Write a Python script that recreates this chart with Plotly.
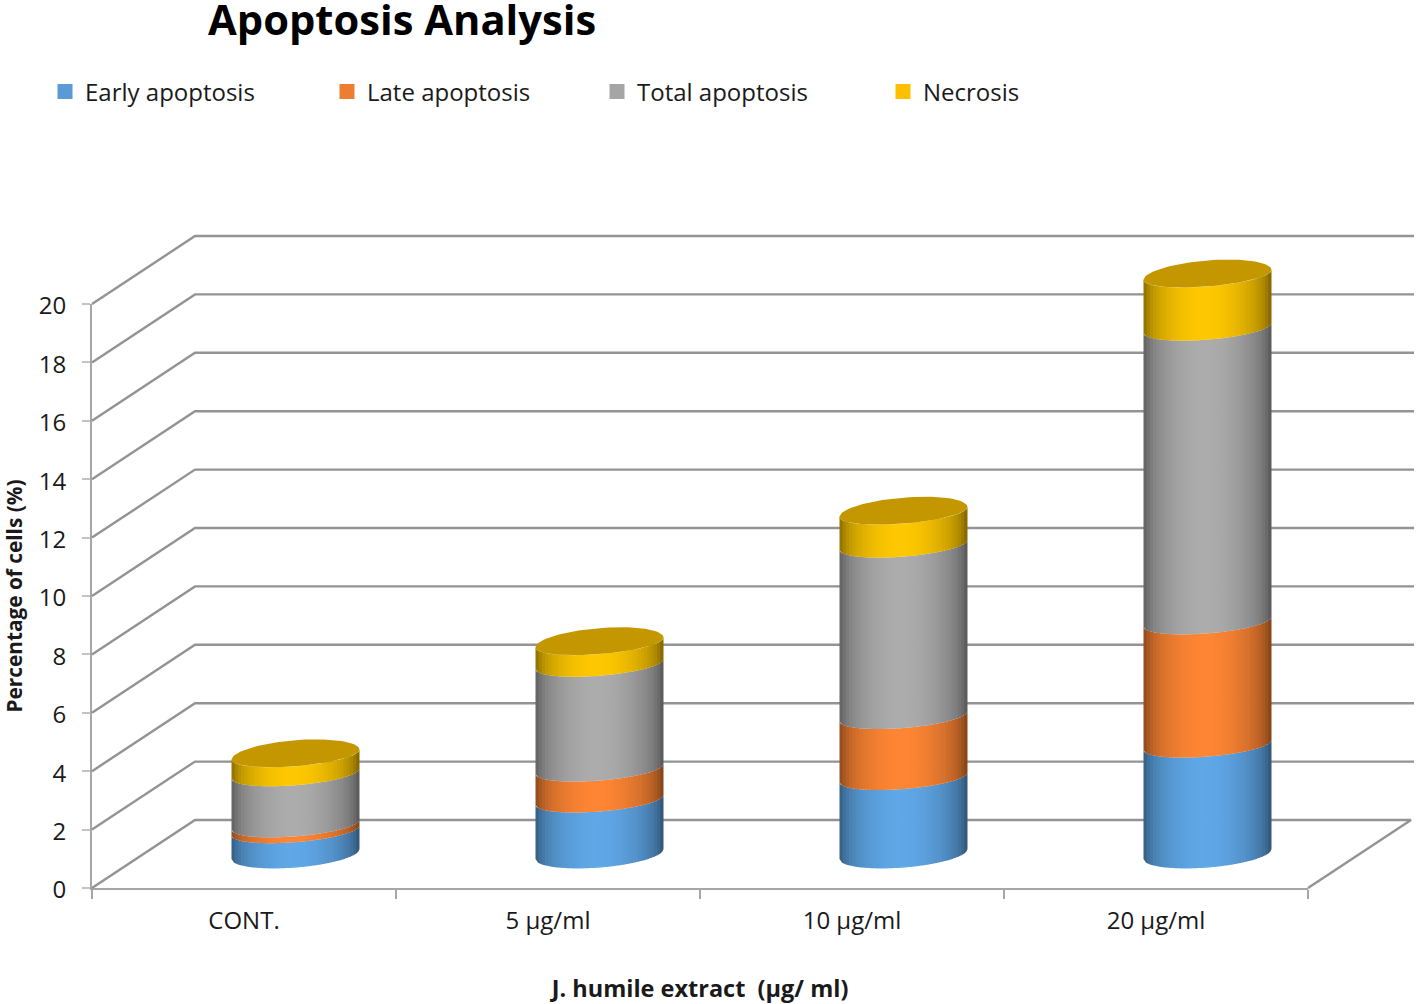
import numpy as np
import plotly.graph_objects as go

categories = ["CONT.", "5 µg/ml", "10 µg/ml", "20 µg/ml"]
early = [0.80, 1.85, 2.62, 3.73]
late = [0.20, 1.06, 2.09, 4.22]
total = [1.75, 3.59, 5.87, 10.06]
necrosis = [0.65, 0.74, 1.13, 1.82]
series_names = ["Early apoptosis", "Late apoptosis", "Total apoptosis", "Necrosis"]
series_colors = ["#5b9bd5", "#ed7d31", "#a5a5a5", "#ffc000"]
body_colors = [(96, 168, 232), (255, 134, 52), (173, 173, 173), (255, 201, 0)]
top_color = "#c49700"
y_ticks = list(range(0, 21, 2))

W, H = 1416, 1004
L, R, T, B = 92, 108, 304, 116
PX = (W - L - R) / 4
PY = (H - T - B) / 20
DX, DY = 103 / PX, 68 / PY      # depth of the 3-D box in axis units
RX = 64 / PX                    # cylinder radius
TILT = 5 / PY                   # elliptical outline
RY_FRONT, RY_BACK, RY_BASE = 11.5 / PY, 14.5 / PY, 13.5 / PY
GRID = "#939393"
AX = "#a6a6a6"
XA, YA = "x2", "y2"             # full-page axes with the same scale as the front plane

fig = go.Figure()

# keeps the front-plane axes (ticks, labels, titles) alive
fig.add_trace(go.Scatter(x=[0, 4], y=[0, 20], mode="markers", marker=dict(opacity=0, size=1),
                         showlegend=False, hoverinfo="skip"))

# walls
gx, gy = [], []
for v in y_ticks:
    if v == 0:
        gx += [0, DX, 4 + DX, 4, None]
        gy += [0, DY, DY, 0, None]
    else:
        gx += [0, DX, 4 + DX + 0.01, None]
        gy += [v, v + DY, v + DY, None]
fig.add_trace(go.Scatter(x=gx, y=gy, mode="lines", xaxis=XA, yaxis=YA, showlegend=False,
                         hoverinfo="skip", line=dict(color=GRID, width=2.4)))


def front(u, ry):
    return TILT * u - ry * np.sqrt(np.clip(1 - u * u, 0, 1))


def shade(c, u):
    f = 1 - 0.30 * abs(u) ** 2 - 0.16 * abs(u) ** 10 - (0.06 * max(u, 0))
    return "rgb(%d,%d,%d)" % tuple(int(v * f) for v in c)


N = 40
edges = np.linspace(-1, 1, N + 1)
series = [early, late, total, necrosis]
for i in range(len(categories)):
    cx = i + 0.5 + DX / 2
    cy = DY / 2
    base = 0.0
    for s, vals in enumerate(series):
        top = base + vals[i]
        for j in range(N):
            u = np.linspace(edges[j], min(edges[j + 1] + 0.012, 1), 4)
            xs = cx + RX * u
            lo = cy + base + front(u, RY_BASE if s == 0 else RY_FRONT)
            hi = cy + top + front(u, RY_FRONT)
            fig.add_trace(go.Scatter(
                x=np.r_[xs, xs[::-1], xs[0]], y=np.r_[lo, hi[::-1], lo[0]],
                mode="lines", fill="toself", xaxis=XA, yaxis=YA, showlegend=False,
                hoverinfo="skip", line=dict(width=0),
                fillcolor=shade(body_colors[s], (edges[j] + edges[j + 1]) / 2)))
        base = top
    t = np.linspace(0, 2 * np.pi, 90)
    sn = np.sin(t)
    fig.add_trace(go.Scatter(
        x=cx + RX * np.cos(t),
        y=cy + base + TILT * np.cos(t) + np.where(sn > 0, RY_BACK, RY_FRONT) * sn,
        mode="lines", fill="toself", xaxis=XA, yaxis=YA, showlegend=False,
        hoverinfo="skip", line=dict(width=0), fillcolor=top_color))

# legend: one legend box per series so that each entry sits at its own place
legend_x = [45, 327, 597, 883]
legends = {}
for k, (nm, col) in enumerate(zip(series_names, series_colors)):
    key = "legend" if k == 0 else f"legend{k + 1}"
    fig.add_trace(go.Scatter(x=[None], y=[None], mode="markers", name=nm, legend=key,
                             xaxis=XA, yaxis=YA,
                             marker=dict(symbol="square", size=15, color=col)))
    legends[key] = dict(x=legend_x[k] / W, y=1 - 92 / H,
                        xanchor="left", yanchor="middle", bgcolor="rgba(0,0,0,0)",
                        font=dict(family="Open Sans", size=24, color="#1a1a1a"))

fig.update_layout(
    width=W, height=H, autosize=False,
    margin=dict(l=0, r=0, t=0, b=0, pad=0),
    paper_bgcolor="white", plot_bgcolor="rgba(0,0,0,0)",
    title=dict(text="<b>Apoptosis Analysis</b>", xref="paper", yref="paper",
               x=208 / W, xanchor="left", y=1 - 20 / H, yanchor="middle",
               font=dict(family="Open Sans", size=41.7, color="black")),
    xaxis=dict(domain=[L / W, 1 - R / W], range=[0, 4], anchor="y", automargin=False,
               tickvals=[0.5, 1.5, 2.5, 3.5], ticktext=categories,
               ticks="", showgrid=False, zeroline=False, showline=True, linecolor=AX, linewidth=2,
               ticklabelstandoff=10, tickfont=dict(family="Open Sans", size=24, color="#1a1a1a"),
               minor=dict(tickvals=[0, 1, 2, 3, 4], ticks="outside", ticklen=9, tickcolor=AX,
                          tickwidth=2, showgrid=False),
               title=dict(text="<b>J. humile extract  (µg/ ml)</b>", standoff=50,
                          font=dict(family="Open Sans", size=23.5, color="#1a1a1a"))),
    yaxis=dict(domain=[B / H, 1 - T / H], range=[0, 20], anchor="x", automargin=False,
               tickvals=y_ticks, ticks="outside", ticklen=8, tickcolor="#c4c4c4",
               tickwidth=2, showgrid=False, zeroline=False, showline=True, linecolor=AX, linewidth=2,
               ticklabelstandoff=11, ticklabelshift=2,
               tickfont=dict(family="Open Sans", size=24, color="#1a1a1a"),
               title=dict(text="<b>Percentage of cells (%)</b>", standoff=25,
                          font=dict(family="Open Sans", size=20.8, color="#1a1a1a"))),
    xaxis2=dict(domain=[0, 1], range=[-L / PX, (W - L) / PX], anchor="y2", visible=False, fixedrange=True),
    yaxis2=dict(domain=[0, 1], range=[-B / PY, (H - B) / PY], anchor="x2", visible=False, fixedrange=True),
    showlegend=True,
    **legends,
)

fig.write_html("out.html", config={"displayModeBar": False},
               post_script="document.body.style.margin='0';")
